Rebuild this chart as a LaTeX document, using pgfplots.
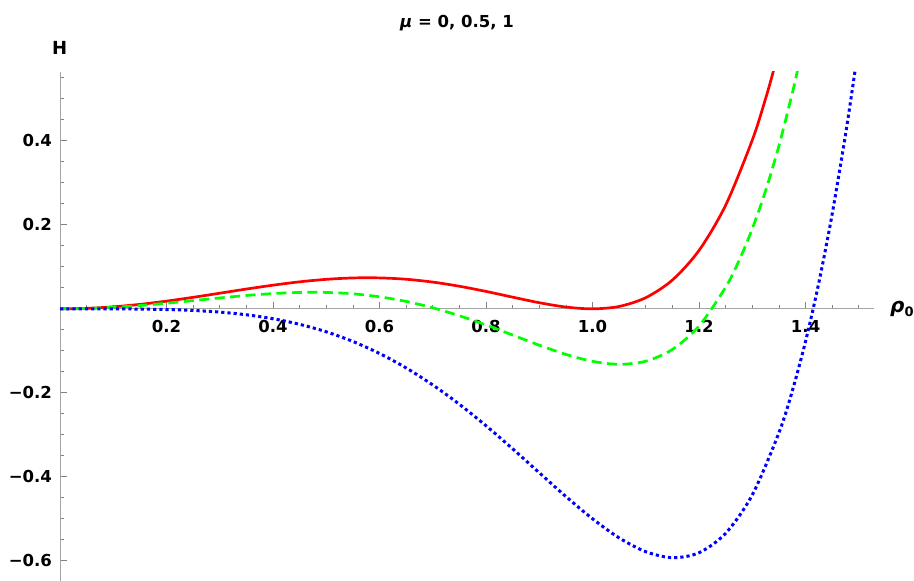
\documentclass[border=0pt]{standalone}
\usepackage{pgfplots}
\pgfplotsset{compat=1.18}
\usepackage{fontspec}
\setmainfont{DejaVu Sans}
\definecolor{axgray}{RGB}{165,165,165}
\definecolor{tickgray}{RGB}{130,130,130}
\definecolor{mred}{RGB}{255,0,0}
\definecolor{mgreen}{RGB}{0,255,0}
\definecolor{mblue}{RGB}{0,0,255}
\begin{document}
\begin{tikzpicture}
\begin{axis}[
  name=ax,
  scale only axis,
  width=814.2pt, height=509pt,
  xmin=0, xmax=1.529, ymin=-0.648, ymax=0.564,
  axis lines=middle,
  axis line style={axgray, line width=1pt, -},
  clip mode=individual,
  xtick={0.2,0.4,0.6,0.8,1.0,1.2,1.4},
  xticklabels={0.2,0.4,0.6,0.8,1.0,1.2,1.4},
  ytick={-0.6,-0.4,-0.2,0.2,0.4},
  yticklabels={−0.6,−0.4,−0.2,0.2,0.4},
  minor xtick={0.05,0.1,0.15,0.25,0.3,0.35,0.45,0.5,0.55,0.65,0.7,0.75,0.85,0.9,0.95,1.05,1.1,1.15,1.25,1.3,1.35,1.45,1.5},
  minor ytick={-0.55,-0.5,-0.45,-0.35,-0.3,-0.25,-0.15,-0.1,-0.05,0.05,0.1,0.15,0.25,0.3,0.35,0.45,0.5,0.55},
  tick align=inside,
  major tick length=7pt, minor tick length=4pt,
  every tick/.style={tickgray, line width=0.8pt},
  xticklabel style={font=\fontsize{16.5}{19}\selectfont\bfseries, anchor=north, inner sep=0pt, yshift=-11pt},
  yticklabel style={font=\fontsize{16.5}{19}\selectfont\bfseries, anchor=east, inner sep=0pt, xshift=-8pt},
]
\addplot[mred, line width=2.7pt, smooth] coordinates {
(0,0)(0.05,0.0012)(0.1,0.0049)(0.15,0.0107)(0.2,0.0184)(0.25,0.0275)(0.3,0.0373)(0.35,0.0472)(0.4,0.0564)(0.45,0.0644)(0.5,0.0703)(0.55,0.0736)(0.6,0.0737)(0.65,0.0705)(0.7,0.0637)(0.75,0.0538)(0.8,0.0415)(0.85,0.0278)(0.9,0.0146)(0.95,0.0043)(1.0,0)(1.05,0.0058)(1.1,0.0267)(1.15,0.0688)(1.2,0.1394)(1.25,0.2472)(1.3,0.4023)(1.325,0.5012)(1.34,0.5683)(1.35,0.6165)
};
\addplot[mgreen, line width=2.7pt, smooth, dash pattern=on 10pt off 5.5pt] coordinates {
(0,0)(0.05,0.0009)(0.1,0.0037)(0.15,0.0079)(0.2,0.0134)(0.25,0.0197)(0.3,0.0260)(0.35,0.0319)(0.4,0.0364)(0.45,0.0391)(0.5,0.0391)(0.55,0.0358)(0.6,0.0287)(0.65,0.0176)(0.7,0.0025)(0.75,-0.0165)(0.8,-0.0385)(0.85,-0.0625)(0.9,-0.0866)(0.95,-0.1085)(1.0,-0.125)(1.05,-0.1320)(1.1,-0.1246)(1.15,-0.0965)(1.2,-0.0406)(1.25,0.0519)(1.275,0.1149)(1.3,0.1911)(1.325,0.2817)(1.35,0.3887)(1.375,0.5135)(1.385,0.5689)
};
\addplot[mblue, line width=3pt, smooth, dash pattern=on 3.2pt off 3pt] coordinates {
(0,0)(0.05,0)(0.1,-0.0001)(0.15,-0.0005)(0.2,-0.0016)(0.25,-0.0038)(0.3,-0.0077)(0.35,-0.0141)(0.4,-0.0236)(0.45,-0.0369)(0.5,-0.0547)(0.55,-0.0777)(0.6,-0.1063)(0.65,-0.1408)(0.7,-0.1813)(0.75,-0.2274)(0.8,-0.2785)(0.85,-0.3334)(0.9,-0.3904)(0.95,-0.4470)(1.0,-0.5)(1.05,-0.5455)(1.1,-0.5783)(1.15,-0.5925)(1.2,-0.5806)(1.25,-0.5341)(1.3,-0.4427)(1.35,-0.2948)(1.375,-0.1955)(1.4,-0.0768)(1.425,0.0631)(1.45,0.2266)(1.475,0.4156)(1.49,0.5424)(1.495,0.5870)
};
\end{axis}
\pgfresetboundingbox
\path[use as bounding box] ([xshift=-60.1pt]ax.south west) rectangle ++(914pt,581pt);
\node[anchor=base, inner sep=0pt] at ([xshift=396.9pt, yshift=553.2pt]ax.south west)
  {\fontsize{16.5}{19}\selectfont\bfseries{\itshape μ} = 0, 0.5, 1};
\node[anchor=base, inner sep=0pt] at ([xshift=-0.4pt, yshift=526pt]ax.south west)
  {\fontsize{18}{20}\selectfont\bfseries H};
\node[anchor=base west, inner sep=0pt] at ([xshift=829.9pt, yshift=268pt]ax.south west)
  {\fontsize{20}{22}\selectfont\bfseries\itshape ρ\raisebox{-4pt}{\fontsize{13}{14}\selectfont\upshape 0}};
\end{tikzpicture}
\end{document}
